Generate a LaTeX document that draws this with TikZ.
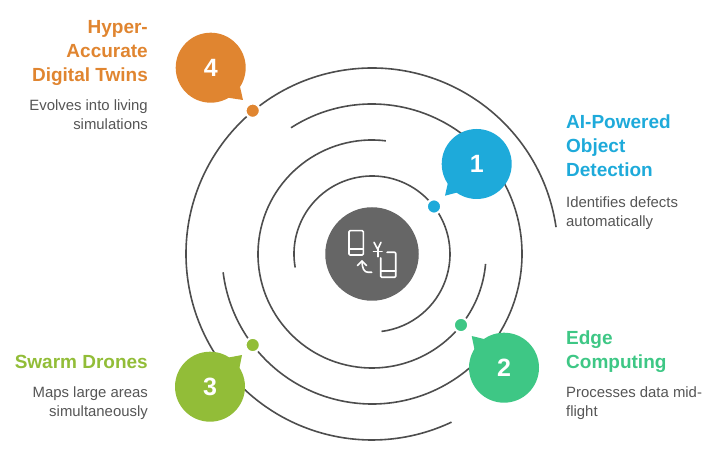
\documentclass[tikz,border=0pt]{standalone}
\usepackage{fontspec}
\setmainfont{Liberation Sans}
\definecolor{cblue}{HTML}{1EAADA}
\definecolor{cgreen}{HTML}{3EC785}
\definecolor{clime}{HTML}{92BD38}
\definecolor{corange}{HTML}{E08530}
\definecolor{cline}{HTML}{4D4D4D}
\definecolor{chub}{HTML}{666666}
\definecolor{ctext}{HTML}{555555}
\tikzset{
  x=1pt,y=1pt,
  orbit/.style={draw=cline,line width=1.6pt},
  hub/.style={circle,fill=chub,minimum size=93.5pt,inner sep=0pt},
  bubble/.style={circle,fill=#1,minimum size=70pt,inner sep=0pt,text=white,font=\bfseries\fontsize{25}{25}\selectfont},
  tail/.style={fill=#1},
  dotmark/.style={circle,fill=#1,draw=white,line width=2.2pt,minimum size=14.5pt,inner sep=0pt},
  headr/.style={anchor=north west,align=left,text=#1,font=\bfseries\fontsize{19}{24}\selectfont,inner sep=0pt},
  headl/.style={anchor=north east,align=right,text=#1,font=\bfseries\fontsize{19}{24}\selectfont,inner sep=0pt},
  bodyr/.style={anchor=north west,align=left,text=ctext,font=\fontsize{14.9}{19}\selectfont,inner sep=0pt},
  bodyl/.style={anchor=north east,align=right,text=ctext,font=\fontsize{14.9}{19}\selectfont,inner sep=0pt},
  icon/.style={draw=white,line width=1.6pt,line cap=round,line join=round}
}
\begin{document}
\begin{tikzpicture}
\useasboundingbox (0,-462) rectangle (712,0);
\coordinate (c) at (372,-254);
% orbits
\draw[orbit] (c) ++(190:78pt) arc[start angle=190,end angle=-83,radius=78pt];
\draw[orbit] (c) ++(83:114pt) arc[start angle=83,end angle=355,radius=114pt];
\draw[orbit] (c) ++(122.7:150pt) arc[start angle=122.7,end angle=-173,radius=150pt];
\draw[orbit] (c) ++(8.3:186pt) arc[start angle=8.3,end angle=295.3,radius=186pt];
% hub
\node[hub] (h) at (c) {};
\draw[icon,rounded corners=1pt] (349,-230.7) rectangle (363.3,-255);
\draw[icon] (349,-249.3) -- (363.3,-249.3);
\draw[icon,rounded corners=1pt] (387,-252.3) -- (395.7,-252.3) -- (395.7,-277.3) -- (380.7,-277.3) -- (380.7,-258);
\draw[icon] (380.7,-271) -- (395.7,-271);
\draw[icon] (374,-242.3) -- (377.7,-249.3) -- (381,-242.3);
\draw[icon] (377.7,-249.3) -- (377.7,-256.7);
\draw[icon] (373.5,-251.7) -- (382,-251.7);
\draw[icon] (371.7,-272.3) -- (368,-272.3) .. controls (364,-272.3) and (362,-268) .. (362,-261);
\draw[icon] (357.5,-265.5) -- (362,-261) -- (366.5,-265.5);
% bubbles
\fill[tail=cblue] (445,-195.7) -- (449,-178) -- (459,-192) -- cycle;
\node[bubble=cblue] (b1) at (476.7,-164) {1};
\fill[tail=cgreen] (471.7,-336) -- (488,-340) -- (475,-352) -- cycle;
\node[bubble=cgreen] (b2) at (504,-367.7) {2};
\fill[tail=clime] (242,-355) -- (226,-358) -- (239,-370) -- cycle;
\node[bubble=clime] (b3) at (210,-386.7) {3};
\fill[tail=corange] (243,-100) -- (240,-86.7) -- (228,-97.7) -- cycle;
\node[bubble=corange] (b4) at (210.7,-67.7) {4};
% dots
\node[dotmark=cblue] (d1) at (434,-206.5) {};
\node[dotmark=cgreen] (d2) at (461,-325) {};
\node[dotmark=clime] (d3) at (252.7,-345) {};
\node[dotmark=corange] (d4) at (252.7,-110.7) {};
% text
\node[headr=cblue] (t1) at (566,-115) {AI-Powered\\Object\\Detection};
\node[bodyr] (s1) at (566,-197) {Identifies defects\\automatically};
\node[headr=cgreen] (t2) at (566,-331) {Edge\\Computing};
\node[bodyr] (s2) at (566,-387) {Processes data mid-\\flight};
\node[headl=clime] (t3) at (148,-355) {Swarm Drones};
\node[bodyl] (s3) at (148,-387) {Maps large areas\\simultaneously};
\node[headl=corange] (t4) at (148,-20) {Hyper-\\Accurate\\Digital Twins};
\node[bodyl] (s4) at (148,-100) {Evolves into living\\simulations};
\end{tikzpicture}
\end{document}
